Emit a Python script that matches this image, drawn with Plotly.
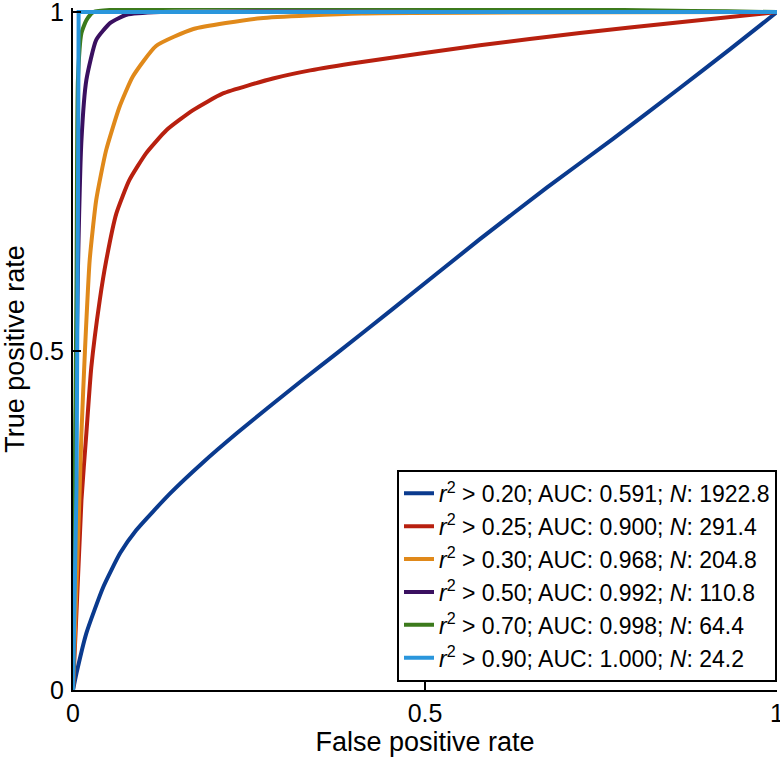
import plotly.graph_objects as go

# ROC curve data (false positive rate, true positive rate)
fpr_020 = [0, 0.005, 0.019, 0.043, 0.067, 0.090, 0.138, 0.185, 0.233, 0.280, 0.327, 0.375, 0.453, 0.578, 0.673, 0.767, 0.862, 0.933, 1.0]
tpr_020 = [0, 0.025, 0.084, 0.152, 0.202, 0.236, 0.290, 0.336, 0.379, 0.419, 0.458, 0.497, 0.561, 0.665, 0.741, 0.813, 0.888, 0.945, 1.0]

fpr_025 = [0, 0.012, 0.019, 0.026, 0.038, 0.0473, 0.0616, 0.080, 0.104, 0.133, 0.170, 0.213, 0.284, 0.337, 0.408, 0.578, 0.72, 0.862, 1.0]
tpr_025 = [0, 0.28, 0.379, 0.476, 0.575, 0.634, 0.703, 0.752, 0.792, 0.826, 0.855, 0.880, 0.902, 0.914, 0.926, 0.951, 0.969, 0.985, 1.0]

fpr_030 = [0, 0.009, 0.012, 0.017, 0.0237, 0.033, 0.047, 0.066, 0.085, 0.118, 0.171, 0.266, 0.41, 1.0]
tpr_030 = [0, 0.28, 0.379, 0.501, 0.634, 0.723, 0.796, 0.860, 0.905, 0.950, 0.975, 0.991, 0.998, 1.0]

fpr_050 = [0, 0.004, 0.007, 0.012, 0.019, 0.033, 0.053, 0.076, 0.124, 1.0]
tpr_050 = [0, 0.40, 0.62, 0.811, 0.900, 0.959, 0.984, 0.996, 1.0, 1.0]

fpr_070 = [0, 0.005, 0.007, 0.012, 0.019, 0.029, 1.0]
tpr_070 = [0, 0.60, 0.90, 0.969, 0.988, 1.0, 1.0]

fpr_090 = [0, 0.005, 0.007, 0.008, 1.0]
tpr_090 = [0, 0.30, 0.70, 1.0, 1.0]

labels = [
    "<i>r</i><sup>2</sup> &gt; 0.20; AUC: 0.591; <i>N</i>: 1922.8",
    "<i>r</i><sup>2</sup> &gt; 0.25; AUC: 0.900; <i>N</i>: 291.4",
    "<i>r</i><sup>2</sup> &gt; 0.30; AUC: 0.968; <i>N</i>: 204.8",
    "<i>r</i><sup>2</sup> &gt; 0.50; AUC: 0.992; <i>N</i>: 110.8",
    "<i>r</i><sup>2</sup> &gt; 0.70; AUC: 0.998; <i>N</i>: 64.4",
    "<i>r</i><sup>2</sup> &gt; 0.90; AUC: 1.000; <i>N</i>: 24.2",
]
colors = ["#0a3a8e", "#b8200f", "#e0891a", "#3a1060", "#3c7a1c", "#2a96dc"]

xs = [fpr_020, fpr_025, fpr_030, fpr_050, fpr_070, fpr_090]
ys = [tpr_020, tpr_025, tpr_030, tpr_050, tpr_070, tpr_090]

fig = go.Figure()
for i, (x, y, name, c) in enumerate(zip(xs, ys, labels, colors)):
    shape = "linear" if i == 5 else "spline"
    fig.add_trace(go.Scatter(x=x, y=y, mode="lines", name=name, legendgroup=f"g{i}",
                             line=dict(color=c, width=4, shape=shape, smoothing=0.5)))

font = "Liberation Sans, Arial, Helvetica, sans-serif"
fig.update_layout(
    width=780, height=757,
    margin=dict(l=73, r=3, t=8, b=67),
    paper_bgcolor="white", plot_bgcolor="white",
    font=dict(family=font, size=24, color="black"),
    showlegend=True,
    legend=dict(x=1, xanchor="right", y=0.012, yanchor="bottom",
                bgcolor="white", bordercolor="black", borderwidth=2,
                font=dict(size=23, family=font), itemwidth=30,
                tracegroupgap=0),
    xaxis=dict(range=[0, 1], tickvals=[0, 0.5, 1], ticktext=["0", "0.5", "1"],
               ticks="inside", ticklen=8, tickwidth=1.5, tickcolor="black",
               showline=True, linecolor="black", linewidth=2, mirror=False,
               showgrid=False, zeroline=False, automargin=False,
               ticklabeloverflow="allow",
               tickfont=dict(size=25), ticklabelstandoff=0,
               title=dict(text="False positive rate", font=dict(size=27), standoff=6)),
    yaxis=dict(range=[0, 1.006], tickvals=[0, 0.5, 1], ticktext=["0", "0.5", "1"],
               ticks="inside", ticklen=8, tickwidth=1.5, tickcolor="black",
               showline=True, linecolor="black", linewidth=2, mirror=False,
               showgrid=False, zeroline=False, automargin=False,
               ticklabeloverflow="allow",
               tickfont=dict(size=25), ticklabelstandoff=2,
               title=dict(text="True positive rate", font=dict(size=27), standoff=12)),
)

fig.write_html("out.html", config={"displayModeBar": False},
               post_script="document.body.style.margin='0';")
